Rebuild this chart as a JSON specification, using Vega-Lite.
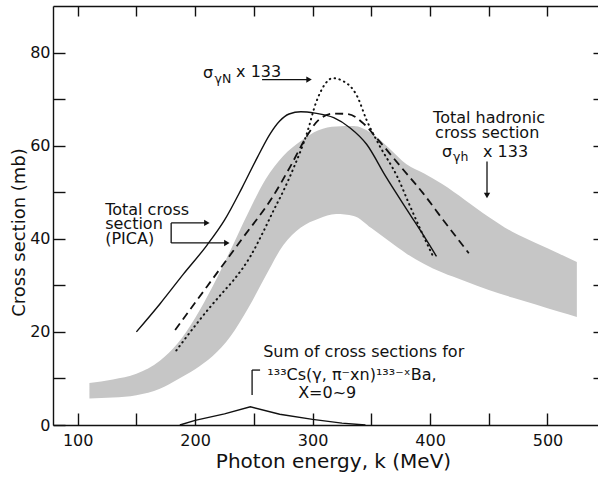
{
  "$schema": "https://vega.github.io/schema/vega-lite/v6.json",
  "width": 545,
  "height": 419,
  "autosize": "none",
  "padding": {"left": 53, "top": 6, "right": 0, "bottom": 52},
  "background": "white",
  "config": {
    "view": {"stroke": null},
    "font": "DejaVu Sans",
    "axis": {
      "grid": false,
      "domainColor": "#111",
      "domainWidth": 1.4,
      "tickColor": "#111",
      "tickWidth": 1.4,
      "labelColor": "#111",
      "titleColor": "#111",
      "labelFont": "DejaVu Sans",
      "titleFont": "DejaVu Sans",
      "labelFontSize": 16,
      "titleFontSize": 18,
      "titleFontWeight": "normal",
      "labelOverlap": false
    }
  },
  "datasets": {
    "band": [
      {"k": 110, "hi": 9.0, "lo": 5.7},
      {"k": 130, "hi": 9.8, "lo": 5.9},
      {"k": 150, "hi": 11.0, "lo": 6.4},
      {"k": 170, "hi": 13.8, "lo": 7.8},
      {"k": 185, "hi": 17.5, "lo": 9.8},
      {"k": 200, "hi": 23.0, "lo": 12.0},
      {"k": 215, "hi": 29.8, "lo": 14.8},
      {"k": 230, "hi": 37.5, "lo": 19.0},
      {"k": 245, "hi": 45.5, "lo": 25.0},
      {"k": 260, "hi": 52.8, "lo": 32.0},
      {"k": 275, "hi": 57.8, "lo": 38.6},
      {"k": 290, "hi": 61.0, "lo": 42.4},
      {"k": 305, "hi": 63.3, "lo": 44.3},
      {"k": 320, "hi": 64.1, "lo": 45.3},
      {"k": 335, "hi": 64.2, "lo": 44.9},
      {"k": 350, "hi": 62.7, "lo": 42.3},
      {"k": 365, "hi": 59.5, "lo": 39.5},
      {"k": 380, "hi": 56.0, "lo": 36.8},
      {"k": 395, "hi": 54.0, "lo": 34.6},
      {"k": 410, "hi": 51.8, "lo": 32.8},
      {"k": 430, "hi": 48.3, "lo": 30.9},
      {"k": 450, "hi": 44.7, "lo": 29.0},
      {"k": 470, "hi": 41.5, "lo": 27.4},
      {"k": 490, "hi": 39.1, "lo": 25.9},
      {"k": 510, "hi": 36.8, "lo": 24.3},
      {"k": 525, "hi": 35.0, "lo": 23.2}
    ],
    "curves": [
      {"curve": "pica", "k": 150, "cs": 20},
      {"curve": "pica", "k": 170, "cs": 26},
      {"curve": "pica", "k": 190, "cs": 32.4},
      {"curve": "pica", "k": 210, "cs": 38.6},
      {"curve": "pica", "k": 225, "cs": 44},
      {"curve": "pica", "k": 240, "cs": 51},
      {"curve": "pica", "k": 253, "cs": 57.5},
      {"curve": "pica", "k": 264, "cs": 62.6},
      {"curve": "pica", "k": 272, "cs": 65.3},
      {"curve": "pica", "k": 280, "cs": 66.8},
      {"curve": "pica", "k": 290, "cs": 67.3},
      {"curve": "pica", "k": 302, "cs": 67},
      {"curve": "pica", "k": 318, "cs": 66},
      {"curve": "pica", "k": 332, "cs": 63.8},
      {"curve": "pica", "k": 346, "cs": 60.3},
      {"curve": "pica", "k": 362, "cs": 53.5},
      {"curve": "pica", "k": 383, "cs": 45.2},
      {"curve": "pica", "k": 395, "cs": 40.5},
      {"curve": "pica", "k": 405.5, "cs": 36.2},
      {"curve": "sigmaN", "k": 184, "cs": 16},
      {"curve": "sigmaN", "k": 199, "cs": 21},
      {"curve": "sigmaN", "k": 213, "cs": 25.4},
      {"curve": "sigmaN", "k": 224, "cs": 28.6},
      {"curve": "sigmaN", "k": 233, "cs": 31.2},
      {"curve": "sigmaN", "k": 247, "cs": 36.2},
      {"curve": "sigmaN", "k": 258, "cs": 41.5},
      {"curve": "sigmaN", "k": 267, "cs": 46.2},
      {"curve": "sigmaN", "k": 275, "cs": 50.2},
      {"curve": "sigmaN", "k": 284, "cs": 55.3},
      {"curve": "sigmaN", "k": 295, "cs": 62.5},
      {"curve": "sigmaN", "k": 303, "cs": 69.3},
      {"curve": "sigmaN", "k": 310, "cs": 73},
      {"curve": "sigmaN", "k": 317, "cs": 74.5},
      {"curve": "sigmaN", "k": 325, "cs": 74},
      {"curve": "sigmaN", "k": 338, "cs": 70.6},
      {"curve": "sigmaN", "k": 346, "cs": 65.5},
      {"curve": "sigmaN", "k": 357, "cs": 60},
      {"curve": "sigmaN", "k": 372, "cs": 53.4},
      {"curve": "sigmaN", "k": 383, "cs": 47},
      {"curve": "sigmaN", "k": 394, "cs": 40.8},
      {"curve": "sigmaN", "k": 403, "cs": 36},
      {"curve": "dashed", "k": 183, "cs": 20.4},
      {"curve": "dashed", "k": 210, "cs": 29.7},
      {"curve": "dashed", "k": 240, "cs": 40},
      {"curve": "dashed", "k": 266, "cs": 49},
      {"curve": "dashed", "k": 281, "cs": 55.5},
      {"curve": "dashed", "k": 295, "cs": 62},
      {"curve": "dashed", "k": 305, "cs": 65.5},
      {"curve": "dashed", "k": 318, "cs": 66.9},
      {"curve": "dashed", "k": 330, "cs": 66.8},
      {"curve": "dashed", "k": 344, "cs": 64.6},
      {"curve": "dashed", "k": 355, "cs": 61.5},
      {"curve": "dashed", "k": 375, "cs": 55.5},
      {"curve": "dashed", "k": 394, "cs": 49.8},
      {"curve": "dashed", "k": 411, "cs": 44.1},
      {"curve": "dashed", "k": 433, "cs": 36.9},
      {"curve": "sum", "k": 187, "cs": 0},
      {"curve": "sum", "k": 200, "cs": 1.0},
      {"curve": "sum", "k": 225, "cs": 2.4},
      {"curve": "sum", "k": 247, "cs": 3.9},
      {"curve": "sum", "k": 272, "cs": 2.3},
      {"curve": "sum", "k": 300, "cs": 1.2},
      {"curve": "sum", "k": 325, "cs": 0.4},
      {"curve": "sum", "k": 345, "cs": 0}
    ],
    "labels": [
      {"t": "Total cross", "k": 123.4, "cs": 46.2},
      {"t": "section", "k": 123.4, "cs": 43.2},
      {"t": "(PICA)", "k": 123.4, "cs": 39.9},
      {"t": "Total hadronic", "k": 402.6, "cs": 66.0},
      {"t": "cross section", "k": 404.3, "cs": 62.8},
      {"t": "Sum of cross sections for", "k": 257.9, "cs": 15.7},
      {"t": "¹³³Cs(γ, π⁻xn)¹³³⁻ˣBa,", "k": 261.5, "cs": 10.75},
      {"t": "X=0~9", "k": 287.7, "cs": 6.9},
      {"t": "σ", "k": 206.8, "cs": 75.7},
      {"t": "x 133", "k": 234.9, "cs": 75.9},
      {"t": "σ", "k": 410.2, "cs": 58.7},
      {"t": "x 133", "k": 445.1, "cs": 58.7}
    ],
    "subs": [
      {"t": "γN", "k": 216.5, "cs": 74.3},
      {"t": "γh", "k": 419.6, "cs": 57.6}
    ],
    "segs": [
      {"k": 257, "k2": 296, "cs": 74.2, "cs2": 74.2},
      {"k": 448.5, "k2": 448.5, "cs": 56.6, "cs2": 49.6},
      {"k": 179.6, "k2": 209, "cs": 43.4, "cs2": 43.4},
      {"k": 179.6, "k2": 179.6, "cs": 43.4, "cs2": 39.1},
      {"k": 179.6, "k2": 226, "cs": 39.1, "cs2": 39.1},
      {"k": 248.5, "k2": 248.5, "cs": 11.8, "cs2": 6.45},
      {"k": 248.5, "k2": 255.3, "cs": 11.8, "cs2": 11.8}
    ],
    "heads": [
      {"dir": "right", "k": 297, "cs": 74.2},
      {"dir": "right", "k": 210, "cs": 43.4},
      {"dir": "right", "k": 227, "cs": 39.1},
      {"dir": "down", "k": 448.5, "cs": 49.3}
    ]
  },
  "resolve": {"axis": {"x": "independent", "y": "independent"}},
  "layer": [
    {
      "data": {"name": "band"},
      "mark": {"type": "area", "color": "#c6c6c6", "interpolate": "monotone"},
      "encoding": {
        "x": {
          "field": "k", "type": "quantitative",
          "scale": {"domain": [79, 543], "nice": false, "zero": false},
          "axis": {
            "orient": "bottom",
            "values": [100, 150, 200, 250, 300, 350, 400, 450, 500],
            "labelExpr": "datum.value % 100 === 0 ? datum.label : ''",
            "tickSize": -12,
            "labelPadding": 19,
            "title": "Photon energy, k (MeV)",
            "titleFontSize": 20,
            "titleX": 280,
            "titleY": 42,
            "titleAlign": "center",
            "titleBaseline": "alphabetic"
          }
        },
        "y": {
          "field": "hi", "type": "quantitative",
          "scale": {"domain": [0, 90], "nice": false, "zero": false},
          "axis": {
            "orient": "left",
            "values": [0, 10, 20, 30, 40, 50, 60, 70, 80],
            "labelExpr": "datum.value % 20 === 0 ? datum.label : ''",
            "tickSize": -12,
            "labelPadding": 15,
            "title": "Cross section (mb)",
            "titleX": -34,
            "titleY": 226,
            "titleAngle": 270,
            "titleAlign": "center",
            "titleBaseline": "middle"
          }
        },
        "y2": {"field": "lo"}
      }
    },
    {
      "data": {"name": "curves"},
      "transform": [{"filter": "datum.curve === 'sigmaN'"}],
      "mark": {"type": "line", "color": "#111", "strokeWidth": 2, "strokeDash": [0.5, 4.5], "strokeCap": "round", "interpolate": "monotone"},
      "encoding": {
        "x": {
          "field": "k", "type": "quantitative",
          "axis": {
            "orient": "top",
            "values": [100, 150, 200, 250, 300, 350, 400, 450, 500],
            "labels": false,
            "tickSize": -10,
            "title": null
          }
        },
        "y": {
          "field": "cs", "type": "quantitative",
          "axis": {
            "orient": "right",
            "values": [10, 20, 30, 40, 50, 60, 70, 80],
            "labels": false,
            "domain": false,
            "tickSize": -5,
            "title": null
          }
        }
      }
    },
    {
      "data": {"name": "curves"},
      "transform": [{"filter": "datum.curve === 'pica'"}],
      "mark": {"type": "line", "color": "#111", "strokeWidth": 1.4, "interpolate": "monotone"},
      "encoding": {
        "x": {"field": "k", "type": "quantitative", "axis": null},
        "y": {"field": "cs", "type": "quantitative", "axis": null}
      }
    },
    {
      "data": {"name": "curves"},
      "transform": [{"filter": "datum.curve === 'dashed'"}],
      "mark": {"type": "line", "color": "#111", "strokeWidth": 1.8, "strokeDash": [8, 5], "interpolate": "monotone"},
      "encoding": {
        "x": {"field": "k", "type": "quantitative", "axis": null},
        "y": {"field": "cs", "type": "quantitative", "axis": null}
      }
    },
    {
      "data": {"name": "curves"},
      "transform": [{"filter": "datum.curve === 'sum'"}],
      "mark": {"type": "line", "color": "#111", "strokeWidth": 1.4},
      "encoding": {
        "x": {"field": "k", "type": "quantitative", "axis": null},
        "y": {"field": "cs", "type": "quantitative", "axis": null}
      }
    },
    {
      "data": {"name": "segs"},
      "mark": {"type": "rule", "color": "#111", "strokeWidth": 1.3},
      "encoding": {
        "x": {"field": "k", "type": "quantitative", "axis": null},
        "x2": {"field": "k2"},
        "y": {"field": "cs", "type": "quantitative", "axis": null},
        "y2": {"field": "cs2"}
      }
    },
    {
      "data": {"name": "heads"},
      "mark": {"type": "point", "filled": true, "color": "#111", "opacity": 1, "size": 40},
      "encoding": {
        "x": {"field": "k", "type": "quantitative", "axis": null},
        "y": {"field": "cs", "type": "quantitative", "axis": null},
        "shape": {"field": "dir", "type": "nominal", "scale": {"domain": ["right", "down"], "range": ["triangle-right", "triangle-down"]}, "legend": null}
      }
    },
    {
      "data": {"name": "labels"},
      "mark": {"type": "text", "align": "left", "baseline": "middle", "font": "DejaVu Sans", "fontSize": 16, "color": "#111"},
      "encoding": {
        "x": {"field": "k", "type": "quantitative", "axis": null},
        "y": {"field": "cs", "type": "quantitative", "axis": null},
        "text": {"field": "t"}
      }
    },
    {
      "data": {"name": "subs"},
      "mark": {"type": "text", "align": "left", "baseline": "middle", "font": "DejaVu Sans", "fontSize": 12.5, "color": "#111"},
      "encoding": {
        "x": {"field": "k", "type": "quantitative", "axis": null},
        "y": {"field": "cs", "type": "quantitative", "axis": null},
        "text": {"field": "t"}
      }
    }
  ]
}
